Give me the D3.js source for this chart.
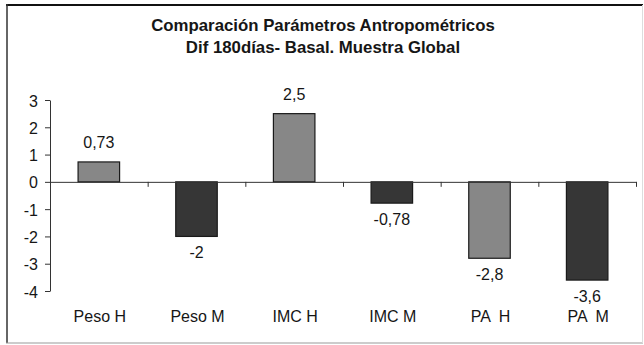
<!DOCTYPE html>
<html>
<head>
<meta charset="utf-8">
<script src="https://cdn.jsdelivr.net/npm/d3@7"></script>
<style>
  body { margin: 0; background: #fff; }
  svg { display: block; font-family: Arial, "Liberation Sans", sans-serif; }
  text { fill: #161616; white-space: pre; }
</style>
</head>
<body>
<svg width="644" height="345"></svg>
<script>
// data
const categories = ["Peso H", "Peso M", "IMC H", "IMC M", "PA  H", "PA  M"]
const values     = [0.73, -2, 2.5, -0.78, -2.8, -3.6]
const valueLabels = ["0,73", "-2", "2,5", "-0,78", "-2,8", "-3,6"]
const groups     = ["H", "M", "H", "M", "H", "M"]
const yTicks     = [-4, -3, -2, -1, 0, 1, 2, 3]
const titleLines = ["Comparación Parámetros Antropométricos", "Dif 180días- Basal. Muestra Global"]

const svg = d3.select("svg")

// frame
svg.append("line").attr("x1", 6).attr("x2", 643).attr("y1", 5).attr("y2", 5)
  .attr("stroke", "#111").attr("stroke-width", 2)
svg.append("line").attr("x1", 7).attr("x2", 7).attr("y1", 4).attr("y2", 343)
  .attr("stroke", "#333").attr("stroke-width", 1.5)
svg.append("line").attr("x1", 6).attr("x2", 643).attr("y1", 343).attr("y2", 343)
  .attr("stroke", "#999").attr("stroke-width", 1)
svg.append("line").attr("x1", 642.5).attr("x2", 642.5).attr("y1", 5).attr("y2", 343)
  .attr("stroke", "#ddd").attr("stroke-width", 1)

const y = d3.scaleLinear().domain([-4, 3]).range([291, 100])
const x = d3.scaleBand().domain(categories).range([50, 636]).paddingInner(0.575).paddingOuter(0.2875)
const edge = d3.scaleLinear().domain([0, categories.length]).range([50, 636])
const fill = d3.scaleOrdinal().domain(["H", "M"]).range(["#878787", "#363636"])

// title
svg.selectAll("text.title")
  .data(titleLines)
  .join("text").classed("title", true)
    .attr("transform", (d, i) => `translate(323,${31 + i * 22}) scale(1.05,1)`)
    .attr("text-anchor", "middle")
    .style("font-size", "16px")
    .style("font-weight", "bold")
    .text(d => d)

// y axis
const yAxis = svg.append("g")
  .attr("transform", "translate(50,0)")
  .call(d3.axisLeft(y).tickValues(yTicks).tickSize(5).tickSizeOuter(0).tickFormat(d => String(d)))
yAxis.select(".domain").attr("stroke", "#333")
yAxis.selectAll(".tick line").attr("stroke", "#333")
yAxis.selectAll(".tick text")
  .attr("x", -12).attr("dy", null).attr("y", 6)
  .style("font-size", "16px").style("font-family", "Arial, 'Liberation Sans', sans-serif")
  .attr("fill", "#161616")

// bars
svg.selectAll("rect.bar")
  .data(values)
  .join("rect").classed("bar", true)
    .attr("x", (d, i) => x(categories[i]))
    .attr("width", x.bandwidth())
    .attr("y", d => y(Math.max(0, d)))
    .attr("height", d => Math.abs(y(d) - y(0)))
    .attr("fill", (d, i) => fill(groups[i]))
    .attr("stroke", "#1a1a1a")
    .attr("stroke-width", 1.2)

// zero line with category ticks
const xAxis = svg.append("g")
  .attr("transform", `translate(0,${y(0)})`)
  .call(d3.axisBottom(edge).tickValues(d3.range(1, categories.length + 1)).tickSize(5).tickSizeOuter(0).tickFormat(""))
xAxis.select(".domain").attr("stroke", "#333")
xAxis.selectAll(".tick line").attr("stroke", "#333")

// value labels
svg.selectAll("text.value")
  .data(values)
  .join("text").classed("value", true)
    .attr("x", (d, i) => x(categories[i]) + x.bandwidth() / 2)
    .attr("y", d => d >= 0 ? y(d) - 14 : y(d) + 22)
    .attr("text-anchor", "middle")
    .style("font-size", "16px")
    .text((d, i) => valueLabels[i])

// category labels
svg.selectAll("text.cat")
  .data(categories)
  .join("text").classed("cat", true)
    .attr("x", d => x(d) + x.bandwidth() / 2 + 1)
    .attr("y", 322)
    .attr("text-anchor", "middle")
    .style("font-size", "16px")
    .text(d => d)
</script>
</body>
</html>
